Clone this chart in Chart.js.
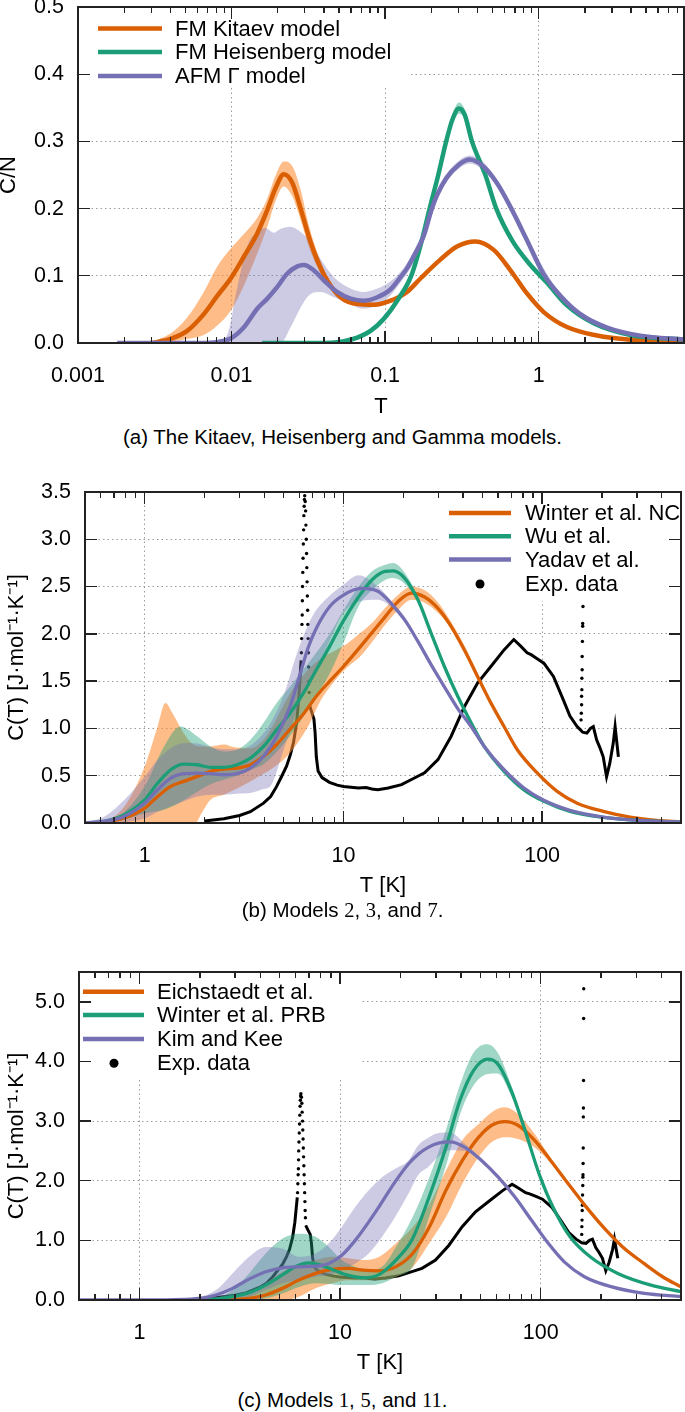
<!DOCTYPE html>
<html><head><meta charset="utf-8">
<script src="https://cdn.jsdelivr.net/npm/chart.js@4/dist/chart.umd.min.js"></script>
<style>
body{margin:0;background:#fff;width:685px;height:1412px;position:relative;overflow:hidden;font-family:"Liberation Sans",Arial,sans-serif}
.wrap{position:absolute;left:0;width:685px}
.wrap canvas{display:block}
.cap{position:absolute;left:0;width:685px;text-align:center;font-size:20.5px;color:#000;line-height:24px;white-space:nowrap}
.num{font-family:"Liberation Serif","DejaVu Serif",serif}
.ink{position:absolute;background:#222;pointer-events:none}
</style></head><body>
<div class="wrap" style="top:0"><canvas id="ca" width="685" height="420"></canvas></div>
<div class="cap" style="top:425px">(a) The Kitaev, Heisenberg and Gamma models.</div>
<div class="wrap" style="top:470px"><canvas id="cb" width="685" height="432"></canvas></div>
<div class="cap" style="top:898px">(b) Models <span class="num">2</span>, <span class="num">3</span>, and <span class="num">7</span>.</div>
<div class="wrap" style="top:940px"><canvas id="cc" width="685" height="440"></canvas></div>
<div class="cap" style="top:1388px">(c) Models <span class="num">1</span>, <span class="num">5</span>, and <span class="num">11</span>.</div>
<script>
// ---------------- Panel (a) ----------------
const aKitaevT = [0.003,0.004,0.00514,0.0066,0.00807,0.01,0.012,0.0147,0.0171,0.0194,0.0219,0.0249,0.0282,0.0319,0.0362,0.042,0.0513,0.0659,0.0846,0.1087,0.139,0.17,0.229,0.294,0.387,0.51,0.654,0.84,1.08,1.53,2.4,3.96,8.85];
const aKitaevC = [0,0.006,0.018,0.043,0.07,0.098,0.128,0.163,0.198,0.231,0.251,0.238,0.2,0.158,0.123,0.093,0.068,0.058,0.057,0.063,0.076,0.096,0.124,0.1435,0.151,0.1386,0.1086,0.0737,0.046,0.0237,0.0112,0.005,0.002];
const aKitaevBandT = [0.003,0.004,0.00514,0.0066,0.00807,0.01,0.012,0.0147,0.0171,0.0194,0.0219,0.0249,0.0282,0.0319,0.0362,0.042,0.0513,0.0659,0.0846,0.1087,0.139];
const aKitaevLo = [0,0.002,0.006,0.012,0.026,0.05,0.085,0.133,0.173,0.212,0.233,0.218,0.183,0.143,0.113,0.087,0.064,0.055,0.054,0.06,0.073];
const aKitaevHi = [0.001,0.014,0.038,0.076,0.114,0.142,0.162,0.186,0.215,0.25,0.27,0.263,0.228,0.175,0.135,0.1,0.072,0.061,0.06,0.066,0.079];

const aHeisT = [0.0158,0.04,0.0487,0.0659,0.0804,0.0982,0.12,0.148,0.17,0.195,0.222,0.25,0.275,0.303,0.33,0.368,0.45,0.53,0.675,0.87,1.13,1.53,2.3,3.96,8.85];
const aHeisC = [0,0,0.001,0.008,0.018,0.036,0.063,0.1,0.145,0.2,0.25,0.3,0.333,0.349,0.34,0.3,0.25,0.2,0.152,0.118,0.09,0.056,0.029,0.012,0.005];
const aHeisLo = [0,0,0,0.005,0.014,0.031,0.057,0.093,0.138,0.193,0.243,0.292,0.325,0.341,0.333,0.294,0.245,0.196,0.148,0.115,0.087,0.054,0.027,0.011,0.004];
const aHeisHi = [0,0.001,0.003,0.011,0.022,0.041,0.069,0.107,0.152,0.207,0.257,0.308,0.341,0.358,0.348,0.306,0.255,0.204,0.156,0.121,0.093,0.058,0.031,0.013,0.006];

const aGammaT = [0.0018,0.0063,0.0081,0.01,0.012,0.0147,0.0171,0.0198,0.023,0.0268,0.0296,0.0344,0.04,0.0487,0.0596,0.0728,0.089,0.1087,0.126,0.139,0.157,0.179,0.2,0.218,0.25,0.301,0.357,0.43,0.535,0.654,0.84,1.08,1.39,1.87,2.79,4.6,8.85];
const aGammaC = [0,0,0.0015,0.0075,0.023,0.051,0.066,0.083,0.103,0.114,0.116,0.108,0.093,0.076,0.066,0.063,0.068,0.08,0.098,0.111,0.133,0.16,0.197,0.22,0.245,0.265,0.273,0.264,0.238,0.203,0.153,0.102,0.07,0.043,0.023,0.011,0.005];
const aGammaBandT = [0.0018,0.008,0.0094,0.0109,0.0126,0.0147,0.0166,0.0189,0.0209,0.0242,0.0282,0.0327,0.038,0.0465,0.0596,0.0728,0.089,0.1087,0.126,0.139,0.157,0.179,0.2,0.218,0.25,0.301,0.357,0.43,0.535,0.84,1.39,2.79,8.85];
const aGammaLo = [0,0,0,0,0,0,0,0,0,0.023,0.053,0.073,0.076,0.068,0.057,0.051,0.056,0.071,0.09,0.103,0.125,0.152,0.19,0.214,0.239,0.259,0.267,0.258,0.233,0.149,0.067,0.021,0.004];
const aGammaHi = [0.0005,0.002,0.013,0.083,0.143,0.166,0.171,0.164,0.17,0.173,0.165,0.15,0.125,0.098,0.081,0.076,0.081,0.092,0.106,0.119,0.141,0.168,0.204,0.226,0.251,0.271,0.279,0.27,0.243,0.157,0.073,0.025,0.006];

// ---------------- Panel (b) ----------------
const bWinterT = [0.5,0.627,0.79,1.0,1.16,1.35,1.57,1.84,2.14,2.5,2.91,3.4,3.96,4.61,5.38,6.27,7.3,8.53,10,12.8,16.2,18.8,22,25.6,29.9,34.8,40.6,47.3,55.2,64.3,75,94.4,119,150,203,277,376,500];
const bWinterC = [0,0.01,0.053,0.158,0.28,0.387,0.44,0.493,0.546,0.57,0.58,0.616,0.704,0.83,0.99,1.15,1.34,1.5,1.655,1.92,2.18,2.34,2.43,2.39,2.27,2.08,1.83,1.55,1.27,1.02,0.775,0.53,0.335,0.21,0.123,0.063,0.028,0.014];
const bWinterBandT = [0.5,0.627,0.79,1.0,1.16,1.27,1.38,1.57,1.79,1.95,2.14,2.5,2.83,3.4,3.96,4.28,5.38,6.63,7.7,9.0,10.5,12,14,16,19,22,25.6,30,35,41,50];
const bWinterLo = [0,0,0,0,0,0,0,0,0,0.12,0.246,0.3,0.352,0.44,0.52,0.563,0.74,1.02,1.3,1.5,1.65,1.75,1.92,2.08,2.26,2.36,2.33,2.22,2.05,1.81,1.44];
const bWinterHi = [0,0.018,0.176,0.6,1.02,1.27,1.16,0.95,0.82,0.81,0.81,0.83,0.8,0.79,0.88,0.98,1.37,1.62,1.74,1.82,1.9,2.0,2.12,2.26,2.42,2.5,2.46,2.33,2.12,1.86,1.48];

const bWuT = [0.5,0.627,0.79,1.0,1.16,1.35,1.57,1.84,2.14,2.5,2.91,3.4,3.96,4.61,5.38,6.27,7.3,8.53,10,11.9,13.9,16.2,17.8,20.3,23.7,27.7,32.2,37.6,43.9,51.1,64.3,81,102,138,203,320,500];
const bWuC = [0,0.018,0.088,0.246,0.42,0.563,0.623,0.616,0.588,0.588,0.616,0.687,0.81,0.986,1.16,1.37,1.62,1.87,2.14,2.39,2.57,2.66,2.665,2.59,2.36,2.0,1.655,1.34,1.06,0.81,0.546,0.35,0.229,0.123,0.06,0.025,0.01];
const bWuBandT = [0.5,0.627,0.79,1.0,1.25,1.51,1.84,2.14,2.5,2.91,3.4,3.96,4.61,5.38,6.27,7.3,8.53,10,11.9,13.9,16.2,17.8,20.3,23.7,27.7,35];
const bWuLo = [0,0.005,0.04,0.1,0.14,0.22,0.33,0.41,0.458,0.5,0.56,0.62,0.75,0.92,1.12,1.34,1.58,1.9,2.29,2.46,2.57,2.59,2.53,2.33,1.98,1.47];
const bWuHi = [0,0.03,0.12,0.39,0.81,1.02,0.915,0.81,0.757,0.775,0.88,1.06,1.27,1.44,1.62,1.8,2.0,2.25,2.5,2.66,2.73,2.75,2.65,2.39,2.02,1.52];

const bYadavT = [0.5,0.627,0.79,1.0,1.16,1.35,1.57,1.84,2.14,2.5,2.91,3.4,3.96,4.61,5.38,6.0,6.63,7.3,8.53,10,12.3,14.9,17.4,20.3,23.7,27.7,32.2,37.6,43.9,51.1,64.3,81,102,138,203,320,500];
const bYadavC = [0,0.02,0.07,0.211,0.352,0.475,0.521,0.528,0.521,0.51,0.521,0.58,0.704,0.915,1.23,1.55,1.85,2.06,2.29,2.41,2.48,2.45,2.32,2.15,1.92,1.67,1.44,1.21,1.02,0.81,0.563,0.37,0.24,0.134,0.063,0.025,0.01];
const bYadavBandT = [0.5,0.627,0.79,1.0,1.16,1.35,1.57,1.84,2.14,2.5,2.91,3.4,3.96,4.28,5.0,5.85,6.95,8.1,10,11.9,14.9,17.4,20.3,25];
const bYadavLo = [0,0,0.01,0.05,0.12,0.176,0.23,0.28,0.3,0.3,0.31,0.317,0.36,0.387,0.775,1.2,1.55,1.83,2.22,2.34,2.36,2.28,2.12,1.83];
const bYadavHi = [0.01,0.07,0.246,0.493,0.67,0.79,0.845,0.84,0.8,0.78,0.78,0.82,0.95,1.05,1.35,1.8,2.18,2.36,2.52,2.62,2.5,2.35,2.18,1.86];

// ---------------- Experimental data (panels b and c) ----------------
const expRiseT = [2.0,2.5,3.0,3.4,3.96,4.3,4.61,4.9,5.17,5.4,5.6,5.8,5.95,6.05,6.12];
const expRiseC = [0.02,0.045,0.08,0.12,0.21,0.28,0.387,0.5,0.6,0.72,0.85,1.05,1.3,1.55,1.72];
const expSpikeT = [6.14,6.16,6.18,6.2,6.21,6.22,6.24,6.26,6.28,6.3,6.32,6.34,6.36,6.38,6.42,6.45,6.47,6.5,6.52,6.54,6.56,6.58,6.6,6.62,6.64,6.66,6.68,6.7,6.72];
const expSpikeC = [1.8,1.95,2.1,2.2,2.35,2.5,2.65,2.8,2.95,3.1,3.25,3.35,3.42,3.46,3.4,3.3,3.15,3.0,2.85,2.7,2.55,2.4,2.25,2.1,1.95,1.8,1.65,1.5,1.38];
const expTailT = [6.74,6.9,7.1,7.2,7.3,7.45,7.8,8.5,9.3,10,11.9,13.0,13.9,14.9,16.8,19.6,22,25.6,29.9,34.8,40.6,47.3,55.2,64.3,72,78,84,88,94,102,114,128,138,150,155,160,168,175,181,188,195,203,211,219,228,233,242];
const expTailC = [1.25,1.18,1.1,0.95,0.7,0.55,0.48,0.43,0.4,0.387,0.37,0.375,0.36,0.352,0.37,0.405,0.46,0.53,0.67,0.915,1.23,1.48,1.655,1.83,1.94,1.87,1.8,1.78,1.74,1.69,1.55,1.3,1.13,1.02,0.99,0.96,0.95,1.0,1.02,0.88,0.8,0.7,0.49,0.63,0.845,1.02,0.7];
const bHighSpikeT = [157,157.5,158,158,158.5,158.5,159,159,159.5,160,160,160.5];
const bHighSpikeC = [1.09,1.16,1.25,1.34,1.41,1.53,1.62,1.76,1.92,2.08,2.11,2.29];
const cHighSpikeT = [160,160.3,160.6,161,161.3,161.6,162,162.2,162.4,162.6,162.8,163,163.2,163.4,163.6,163.8];
const cHighSpikeC = [1.1,1.23,1.34,1.5,1.59,1.76,1.92,2.06,2.1,2.29,2.55,3.07,3.22,3.68,4.72,5.22];

// ---------------- Panel (c) ----------------
const cEichT = [2.0,3.0,3.52,4.26,5.16,6.24,7.55,9.13,11,13,15.7,19,23,27.8,33.7,40.7,49.1,57,66.3,77,93,112,135,163,204,256,328,405,500];
const cEichC = [0,0.01,0.028,0.084,0.195,0.334,0.446,0.513,0.53,0.5,0.49,0.56,0.78,1.22,1.84,2.34,2.73,2.93,2.99,2.93,2.68,2.34,1.98,1.62,1.23,0.89,0.61,0.39,0.22];
const cEichBandT = [2.0,2.91,3.52,4.26,5.16,6.24,7.55,9.13,11,13,15.7,19,23,27.8,33.7,40.7,49.1,57,66.3,77,93,112,135];
const cEichLo = [0,0,0,0,0,0.056,0.195,0.28,0.33,0.33,0.33,0.39,0.55,0.95,1.39,1.95,2.4,2.65,2.73,2.7,2.56,2.3,1.96];
const cEichHi = [0,0.028,0.11,0.28,0.474,0.585,0.67,0.725,0.7,0.67,0.725,0.95,1.22,1.6,2.17,2.68,2.95,3.15,3.23,3.12,2.79,2.38,2.0];

const cWinterT = [1.7,2.41,2.91,3.52,4.26,5.16,5.98,6.93,8.04,9.33,10.8,13,15.7,19.6,22.9,27.8,33.7,39.5,46.3,54.2,61,71.3,83.6,98,115,140,177,242,354,500];
const cWinterC = [0,0.02,0.056,0.123,0.25,0.42,0.557,0.624,0.585,0.5,0.42,0.373,0.43,0.72,1.02,1.73,2.56,3.34,3.85,4.04,3.96,3.51,2.84,2.12,1.56,1.06,0.72,0.446,0.25,0.14];
const cWinterBandT = [1.7,2.41,2.91,3.52,4.26,5.16,6.24,7.55,8.79,10.2,11.9,13.9,16.2,19,23,27.8,33.7,39.5,46.3,54.2,61,71.3,83.6,98];
const cWinterLo = [0,0,0,0,0.028,0.11,0.22,0.28,0.27,0.25,0.25,0.25,0.28,0.39,0.557,1.4,2.25,3.1,3.6,3.79,3.8,3.42,2.8,2.1];
const cWinterHi = [0,0.028,0.167,0.446,0.78,1.03,1.11,1.06,0.89,0.67,0.557,0.5,0.557,0.89,1.39,2.05,2.85,3.6,4.15,4.29,4.15,3.6,2.88,2.14];

const cKimT = [0.5,1.12,1.99,2.41,2.91,3.52,4.26,5.16,6.24,7.55,8.79,10.2,11.9,13.9,15.6,18.8,21.9,24.6,27.5,30.9,35.3,41.9,50.7,61.4,74.2,89.8,109,131,165,224,328,500];
const cKimC = [0,0.002,0.028,0.084,0.195,0.35,0.474,0.54,0.557,0.568,0.613,0.75,1.0,1.31,1.56,1.98,2.28,2.45,2.56,2.63,2.65,2.56,2.34,2.06,1.73,1.34,0.95,0.64,0.39,0.223,0.111,0.06];
const cKimBandT = [1.5,1.99,2.41,2.91,3.52,4.26,5.16,6.24,7.55,8.79,10.2,11.9,13.9,16.2,18.8,21.9,24.6,27.5,30.9,35.3,41.9,50.7,61.4];
const cKimLo = [0,0,0,0,0.056,0.167,0.28,0.33,0.39,0.42,0.5,0.613,0.78,1.06,1.39,1.78,2.1,2.23,2.4,2.51,2.5,2.31,2.04];
const cKimHi = [0.01,0.05,0.167,0.446,0.725,0.89,0.864,0.725,0.78,0.95,1.23,1.56,1.84,2.06,2.2,2.34,2.6,2.72,2.8,2.81,2.62,2.37,2.08];

// ---------------- styling ----------------
const ORANGE = '#d95f02', GREEN = '#1b9e77', PURPLE = '#7570b3';
const ORANGE_BAND = 'rgba(252,140,50,0.58)', GREEN_BAND = 'rgba(27,158,119,0.42)', PURPLE_BAND = 'rgba(117,112,179,0.36)';
const GRID = '#9a9a9a', DASH = [1.5, 3];
const FAMILY = '"Liberation Sans", Arial, sans-serif';

const pts = (xs, ys) => xs.map((x, i) => ({x: x, y: ys[i]}));
function band(xs, lo, hi, color, order) {
  return [
    {data: pts(xs, lo), borderWidth: 0, borderColor: 'rgba(0,0,0,0)', pointRadius: 0, fill: false, order: order},
    {data: pts(xs, hi), borderWidth: 0, borderColor: 'rgba(0,0,0,0)', pointRadius: 0, fill: '-1', backgroundColor: color, order: order}
  ];
}
function curve(label, xs, ys, color, w, row, order) {
  return {label: label, data: pts(xs, ys), borderColor: color, borderWidth: w, pointRadius: 0, fill: false, order: order, legendRow: row};
}
function expLine(xs, ys, row) {
  const d = {label: 'Exp. data', data: pts(xs, ys), borderColor: '#000', borderWidth: 3, pointRadius: 0, fill: false, order: 20, cubicInterpolationMode: 'default', tension: 0};
  if (row !== undefined) { d.legendRow = row; d.legendDot = true; }
  return d;
}
function expDots(xs, ys) {
  return {label: 'Exp. data', data: pts(xs, ys), showLine: false, pointRadius: 1.7, pointBackgroundColor: '#000', pointBorderWidth: 0, order: 20};
}

const legendLayout = {
  ca: {box: [80, 9, 410, 87], rows: [28.5, 52, 76], x0: 98, x1: 162, textX: 175, sampleW: 4.5},
  cb: {box: [440, 24, 683, 131], rows: [43, 66.3, 89.5, 114], x0: 449, x1: 511, textX: 525, dotX: 480, dotR: 4.5, sampleW: 4.5},
  cc: {box: [81, 34, 362, 137], rows: [51.7, 75, 99, 123.3], x0: 83, x1: 144, textX: 157, dotX: 114, dotR: 4.5, sampleW: 4.5}
};

const isDecade = v => { const l = Math.log10(v); return Math.abs(l - Math.round(l)) < 1e-6; };
const fmtDecade = v => { const e = Math.round(Math.log10(v)); return e >= 0 ? String(Math.pow(10, e)) : '0.' + '0'.repeat(-e - 1) + '1'; };

function drawLegend(chart) {
  const L = legendLayout[chart.canvas.id], c = chart.ctx, b = L.box;
  c.save();
  c.fillStyle = '#fff';
  c.fillRect(b[0], b[1], b[2] - b[0], b[3] - b[1]);
  c.font = '22px ' + FAMILY; c.textBaseline = 'middle'; c.textAlign = 'left';
  chart.data.datasets.forEach(ds => {
    if (ds.legendRow === undefined) return;
    const y = L.rows[ds.legendRow];
    if (ds.legendDot) {
      c.fillStyle = '#000'; c.beginPath(); c.arc(L.dotX, y, L.dotR, 0, 2 * Math.PI); c.fill();
    } else {
      c.strokeStyle = ds.borderColor; c.lineWidth = L.sampleW; c.lineCap = 'butt';
      c.beginPath(); c.moveTo(L.x0, y); c.lineTo(L.x1, y); c.stroke();
    }
    c.fillStyle = '#000'; c.fillText(ds.label, L.textX, y + 1);
  });
  c.restore();
}

const legendPlugin = {
  id: 'boxLegend',
  afterDraw(chart) { try { drawLegend(chart); } catch (e) { /* ignore */ } }
};

// Frame and inward tick marks placed from the chart's own scales (overlay on top of the canvas)
function addFrame(chart, wrapTop) {
  const a = chart.chartArea, xs = chart.scales.x, ys = chart.scales.y;
  const W = 1.4, h = W / 2;
  const mk = (l, t, w, hh) => {
    const d = document.createElement('div');
    d.className = 'ink';
    d.style.left = l + 'px'; d.style.top = (wrapTop + t) + 'px';
    d.style.width = w + 'px'; d.style.height = hh + 'px';
    document.body.appendChild(d);
  };
  mk(a.left - h, a.top - h, a.right - a.left + W, W);
  mk(a.left - h, a.bottom - h, a.right - a.left + W, W);
  mk(a.left - h, a.top - h, W, a.bottom - a.top + W);
  mk(a.right - h, a.top - h, W, a.bottom - a.top + W);
  const lmin = Math.log10(xs.min), lmax = Math.log10(xs.max);
  for (let d = Math.floor(lmin); d <= Math.ceil(lmax); d++) {
    for (let m = 1; m <= 9; m++) {
      const v = m * Math.pow(10, d), lv = Math.log10(v);
      if (lv < lmin - 1e-6 || lv > lmax + 1e-6) continue;
      const px = xs.getPixelForValue(v), len = (m === 1) ? 12 : 6;
      mk(px - h, a.bottom - len, W, len);
      mk(px - h, a.top, W, len);
    }
  }
  ys.ticks.forEach(t => {
    const py = ys.getPixelForValue(t.value);
    mk(a.left, py - h, 12, W);
    mk(a.right - 12, py - h, 12, W);
  });
}

function makeChart(id, wrapTop, datasets, cfg) {
  const chart = new Chart(document.getElementById(id), {
    type: 'line',
    data: {datasets: datasets},
    options: {
      responsive: false, animation: false, events: [],
      layout: {padding: {top: cfg.padTop, right: 1, left: 0, bottom: 0}},
      elements: {line: {cubicInterpolationMode: 'monotone'}, point: {radius: 0}},
      plugins: {legend: {display: false}, tooltip: {enabled: false}, title: {display: false}},
      scales: {
        x: {
          type: 'logarithmic', min: cfg.xmin, max: cfg.xmax,
          afterFit: s => { s.height = cfg.xH; s.paddingLeft = 0; s.paddingRight = 0; },
          grid: {drawTicks: false, lineWidth: 1, borderDash: DASH, color: c => (c.tick && isDecade(c.tick.value) && c.tick.value > cfg.xmin * 1.01 && c.tick.value < cfg.xmax * 0.99) ? GRID : 'rgba(0,0,0,0)'},
          border: {display: false, dash: DASH},
          ticks: {autoSkip: false, maxRotation: 0, minRotation: 0, padding: 20, color: '#000', font: {family: FAMILY, size: 21.5},
                  callback: v => isDecade(v) ? fmtDecade(v) : ''},
          title: {display: true, text: cfg.xTitle, color: '#000', font: {family: FAMILY, size: 22, lineHeight: 1.2}, padding: {top: 0, bottom: cfg.xTitlePad}}
        },
        y: {
          min: 0, max: cfg.ymax,
          afterFit: s => { s.width = cfg.yW; s.paddingTop = 0; s.paddingBottom = 0; },
          grid: {drawTicks: false, lineWidth: 1, borderDash: DASH, color: c => (c.tick && c.tick.value > 1e-9 && c.tick.value < cfg.ymax - 1e-9) ? GRID : 'rgba(0,0,0,0)'},
          border: {display: false, dash: DASH},
          ticks: {stepSize: cfg.ystep, includeBounds: false, padding: 14, color: '#000', font: {family: FAMILY, size: 21.5}, callback: v => Number(v).toFixed(1)},
          title: {display: true, text: cfg.yTitle, color: '#000', font: {family: FAMILY, size: 22, lineHeight: cfg.yTitleLH}, padding: {top: cfg.yTitlePad, bottom: 0}}
        }
      }
    },
    plugins: [legendPlugin]
  });
  try { addFrame(chart, wrapTop); } catch (e) { /* ignore */ }
  return chart;
}

// Panel a
makeChart('ca', 0, [
  ...band(aKitaevBandT, aKitaevLo, aKitaevHi, ORANGE_BAND, 8),
  ...band(aHeisT, aHeisLo, aHeisHi, GREEN_BAND, 7),
  ...band(aGammaBandT, aGammaLo, aGammaHi, PURPLE_BAND, 6),
  curve('FM Kitaev model', aKitaevT, aKitaevC, ORANGE, 4.5, 0, 3),
  curve('FM Heisenberg model', aHeisT, aHeisC, GREEN, 4.5, 1, 2),
  curve('AFM \u0393 model', aGammaT, aGammaC, PURPLE, 4.5, 2, 1)
], {padTop: 7, xmin: 0.001, xmax: 8.85, xH: 77, yW: 78, ymax: 0.5, ystep: 0.1,
    xTitle: 'T', xTitlePad: 0, yTitle: 'C/N', yTitleLH: 0.85, yTitlePad: 0});

// Panel b
makeChart('cb', 470, [
  expLine(expRiseT, expRiseC),
  expDots(expSpikeT, expSpikeC),
  expLine(expTailT, expTailC, 3),
  expDots(bHighSpikeT, bHighSpikeC),
  ...band(bWinterBandT, bWinterLo, bWinterHi, ORANGE_BAND, 8),
  ...band(bWuBandT, bWuLo, bWuHi, GREEN_BAND, 7),
  ...band(bYadavBandT, bYadavLo, bYadavHi, PURPLE_BAND, 6),
  curve('Winter et al. NC', bWinterT, bWinterC, ORANGE, 3.3, 0, 3),
  curve('Wu et al.', bWuT, bWuC, GREEN, 3.3, 1, 2),
  curve('Yadav et al.', bYadavT, bYadavC, PURPLE, 3.3, 2, 1)
], {padTop: 22, xmin: 0.5, xmax: 500, xH: 79, yW: 85, ymax: 3.5, ystep: 0.5,
    xTitle: 'T [K]', xTitlePad: 3, yTitle: 'C(T) [J\u00b7mol\u207b\u00b9\u00b7K\u207b\u00b9]', yTitleLH: 1.2, yTitlePad: 4});

// Panel c
makeChart('cc', 940, [
  expLine(expRiseT, expRiseC),
  expDots(expSpikeT, expSpikeC),
  expLine(expTailT, expTailC, 3),
  expDots(cHighSpikeT, cHighSpikeC),
  ...band(cEichBandT, cEichLo, cEichHi, ORANGE_BAND, 8),
  ...band(cWinterBandT, cWinterLo, cWinterHi, GREEN_BAND, 7),
  ...band(cKimBandT, cKimLo, cKimHi, PURPLE_BAND, 6),
  curve('Eichstaedt et al.', cEichT, cEichC, ORANGE, 3.3, 0, 3),
  curve('Winter et al. PRB', cWinterT, cWinterC, GREEN, 3.3, 1, 2),
  curve('Kim and Kee', cKimT, cKimC, PURPLE, 3.3, 2, 1)
], {padTop: 32, xmin: 0.5, xmax: 500, xH: 80, yW: 79, ymax: 5.5, ystep: 1,
    xTitle: 'T [K]', xTitlePad: 4, yTitle: 'C(T) [J\u00b7mol\u207b\u00b9\u00b7K\u207b\u00b9]', yTitleLH: 1.2, yTitlePad: 4});
</script>
</body></html>
